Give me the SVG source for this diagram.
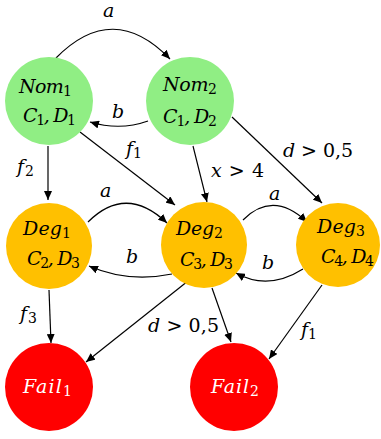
<svg xmlns="http://www.w3.org/2000/svg" width="381" height="439" viewBox="0 0 381 439">
<defs>
<marker id="arr" markerUnits="userSpaceOnUse" markerWidth="9" markerHeight="8" refX="9" refY="4" orient="auto">
<path d="M0,0 L9,4 L0,8 z" fill="#000"/>
</marker>
<style>
.edge{fill:none;stroke:#000;stroke-width:1.2;marker-end:url(#arr)}
.t{font-family:"DejaVu Serif","Liberation Serif",serif;font-style:italic;font-size:19px;fill:#000}
.w{fill:#fff}
.s{font-size:14px;font-style:normal}
.n{font-style:normal}
.nom{fill:#90EE84}
.deg{fill:#FFC000}
.fail{fill:#FF0000}
</style>
</defs>
<rect width="381" height="439" fill="#fff"/>
<g id="connectors">
<path class="edge" d="M56,58 Q113,0 170,59"/>
<path class="edge" d="M148,121 Q120,131 90,122"/>
<path class="edge" d="M48,146 L48,200"/>
<path class="edge" d="M80,132 L175,205"/>
<path class="edge" d="M193,146 L207,202"/>
<path class="edge" d="M232,117 L322,203"/>
<path class="edge" d="M88,222 Q126,184 167,223"/>
<path class="edge" d="M172,274 Q128,283 89,266"/>
<path class="edge" d="M243,220 Q273,190 307,222"/>
<path class="edge" d="M303,269 Q268,291 236,273"/>
<path class="edge" d="M49,290 L51,343"/>
<path class="edge" d="M188,281 L86,362"/>
<path class="edge" d="M212,288 L231,342"/>
<path class="edge" d="M322,285 L269,359"/>
<text class="t" x="103" y="17">a</text>
<text class="t" x="112" y="118">b</text>
<text class="t" x="126" y="155" textLength="16">f<tspan class="s" dy="3">1</tspan></text>
<text class="t" x="17" y="173" textLength="17">f<tspan class="s" dy="3">2</tspan></text>
<text class="t" x="211" y="177" textLength="53">x <tspan class="n">&gt; 4</tspan></text>
<text class="t" x="283" y="157" textLength="70">d <tspan class="n">&gt; 0,5</tspan></text>
<text class="t" x="100" y="197">a</text>
<text class="t" x="126" y="263">b</text>
<text class="t" x="269" y="200">a</text>
<text class="t" x="262" y="269">b</text>
<text class="t" x="20" y="320" textLength="17">f<tspan class="s" dy="3">3</tspan></text>
<text class="t" x="148" y="332" textLength="71">d <tspan class="n">&gt; 0,5</tspan></text>
<text class="t" x="301" y="336" textLength="16">f<tspan class="s" dy="3">1</tspan></text>
</g>
<g id="nom1">
<circle class="nom" cx="49" cy="101" r="44"/>
<text class="t" x="19" y="93" textLength="53">Nom<tspan class="s" dy="3">1</tspan></text>
<text class="t" x="23" y="122" textLength="53">C<tspan class="s" dy="3">1</tspan><tspan dy="-3">, D</tspan><tspan class="s" dy="3">1</tspan></text>
</g>
<g id="nom2">
<circle class="nom" cx="190" cy="101" r="44"/>
<text class="t" x="163" y="91" textLength="54">Nom<tspan class="s" dy="3">2</tspan></text>
<text class="t" x="163" y="123" textLength="54">C<tspan class="s" dy="3">1</tspan><tspan dy="-3">, D</tspan><tspan class="s" dy="3">2</tspan></text>
</g>
<g id="deg1">
<circle class="deg" cx="49" cy="246" r="43"/>
<text class="t" x="23" y="235" textLength="48">Deg<tspan class="s" dy="3">1</tspan></text>
<text class="t" x="27" y="265" textLength="53">C<tspan class="s" dy="3">2</tspan><tspan dy="-3">, D</tspan><tspan class="s" dy="3">3</tspan></text>
</g>
<g id="deg2">
<circle class="deg" cx="204" cy="245" r="43"/>
<text class="t" x="176" y="235" textLength="47">Deg<tspan class="s" dy="3">2</tspan></text>
<text class="t" x="180" y="266" textLength="53">C<tspan class="s" dy="3">3</tspan><tspan dy="-3">, D</tspan><tspan class="s" dy="3">3</tspan></text>
</g>
<g id="deg3">
<circle class="deg" cx="338" cy="245" r="42"/>
<text class="t" x="317" y="233" textLength="48">Deg<tspan class="s" dy="3">3</tspan></text>
<text class="t" x="321" y="263" textLength="53">C<tspan class="s" dy="3">4</tspan><tspan dy="-3">, D</tspan><tspan class="s" dy="3">4</tspan></text>
</g>
<g id="fail1">
<circle class="fail" cx="49" cy="387" r="44"/>
<text class="t w" x="23" y="393" textLength="49">Fail<tspan class="s" dy="3">1</tspan></text>
</g>
<g id="fail2">
<circle class="fail" cx="234" cy="387" r="44"/>
<text class="t w" x="211" y="393" textLength="48">Fail<tspan class="s" dy="3">2</tspan></text>
</g>
</svg>
